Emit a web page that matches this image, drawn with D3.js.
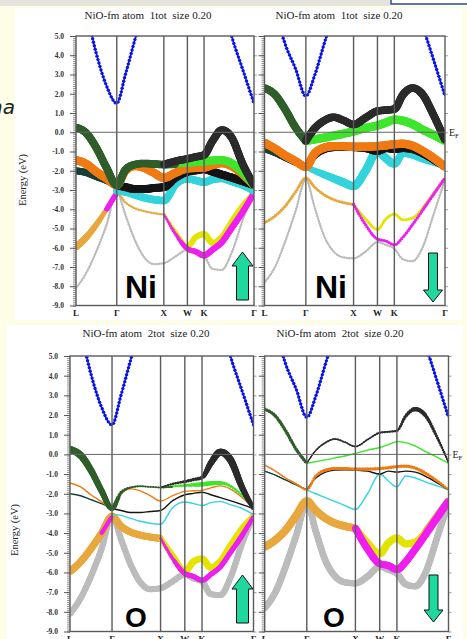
<!DOCTYPE html>
<html>
<head>
<meta charset="utf-8">
<script src="https://cdn.jsdelivr.net/npm/d3@7"></script>
<style>
  body { margin: 0; background: #fefde8; }
  svg { display: block; }
  text { white-space: pre; }
</style>
</head>
<body>
<svg id="chart" width="467" height="639"></svg>
<script>
// k-path L - Γ - X - W - K - Γ (units of 2π/a) and the sampled k points
const kPts = [0, 0.22, 0.43, 0.65, 0.866, 1.05, 1.25, 1.45, 1.65, 1.866, 2.116, 2.366, 2.543, 2.72, 2.9, 3.1, 3.3, 3.55, 3.781];
const kTickPos = [0, 0.866, 1.866, 2.366, 2.72, 3.781];
const kTickNames = ["L", "Γ", "X", "W", "K", "Γ"];
const energyTicks = [5, 4, 3, 2, 1, 0, -1, -2, -3, -4, -5, -6, -7, -8, -9];
const _ = null;

// spin up bands (eV)
const upGray      = [-8.1, -7.3, -6.2, -4.8, -3.1, -4.3, -5.6, -6.5, -6.85, -6.8, -6.45, -6.1, -6.3, -6.45, -7.1, -7.15, -6.3, -4.5, -3.1];
const upGold      = [-5.95, -5.45, -4.8, -4.0, -3.15, -3.65, -3.95, -4.1, -4.2, -4.27, _, _, _, _, _, _, _, _, _];
const upYellow    = [_, _, _, -4.0, -3.15, _, _, _, _, -4.25, -5.15, -5.95, -5.45, -5.3, -5.75, -5.45, -4.7, -3.8, -3.15];
const upMagenta   = [_, _, _, -4.0, -3.15, _, _, _, _, -4.25, -5.3, -6.05, -6.2, -6.4, -6.1, -5.7, -5.0, -4.1, -3.15];
const upCyan      = [_, _, _, _, -3.05, -3.1, -3.25, -3.4, -3.5, -3.55, -2.7, -2.42, -2.5, -2.6, -2.45, -2.4, -2.55, -2.75, -3.05];
const upBlackLo   = [_, _, _, _, -2.75, -2.85, -2.95, -2.95, -2.9, -2.85, -2.35, -2.05, -1.98, -1.92, -2.05, -2.2, -2.35, -2.55, -2.75];
const upTeal      = [-2.0, -2.1, -2.3, -2.5, -2.75, _, _, _, _, _, _, _, _, _, _, _, _, _, _];
const upOrange    = [-1.45, -1.65, -2.05, -2.4, -2.75, -2.0, -1.75, -1.85, -2.1, -2.37, -2.1, -1.88, -1.85, -1.83, -1.7, -1.6, -1.75, -2.2, -2.75];
const upGreen     = [_, _, _, _, _, _, _, _, _, -1.68, -1.62, -1.58, -1.55, -1.52, -1.47, -1.45, -1.6, -2.1, -2.75];
const upDarkGreen = [0.25, -0.05, -0.8, -1.85, -2.75, -1.95, -1.68, -1.62, -1.65, -1.68, -1.66, _, _, _, _, _, _, _, _];
const upBlackUp   = [_, _, _, _, _, _, _, _, _, -1.68, -1.5, -1.38, -1.28, -1.18, -0.45, 0.12, -0.25, -1.7, -2.75];
const upBlue      = [8.5, 6.3, 4.1, 2.4, 1.5, 3.0, 4.8, 6.5, 8.0, _, _, _, _, _, _, 7.0, 5.05, 3.2, 1.5];

// spin down bands (eV)
const dnGray      = [-7.8, -7.0, -5.7, -4.1, -2.45, -3.9, -5.4, -6.2, -6.5, -6.55, -6.2, -5.7, -5.85, -6.05, -6.6, -6.7, -6.05, -4.2, -2.45];
const dnGold      = [-4.7, -4.35, -3.85, -3.1, -2.37, -2.85, -3.25, -3.5, -3.65, -3.75, _, _, _, _, _, _, -4.0, -3.15, -2.37];
const dnYellow    = [_, _, _, _, _, _, _, _, _, -3.75, -4.5, -5.05, -4.5, -4.25, -4.55, -4.45, -4.0, _, _];
const dnMagenta   = [_, _, _, _, _, _, _, _, _, -3.75, -4.8, -5.55, -5.65, -5.85, -5.45, -4.8, -4.1, -3.2, -2.37];
const dnCyan      = [_, _, _, _, -1.8, -2.0, -2.2, -2.4, -2.6, -2.8, -2.0, -1.0, -1.35, -1.65, -1.1, -1.2, -1.4, -1.6, -1.8];
const dnBlackLo   = [_, _, _, _, -1.8, -1.2, -0.9, -0.8, -0.78, -0.8, -0.85, -1.0, -0.85, -0.9, -0.85, -0.9, -1.1, -1.45, -1.8];
const dnTeal      = [-0.85, -1.05, -1.3, -1.55, -1.8, _, _, _, _, _, _, _, _, _, _, _, _, _, _];
const dnOrange    = [-0.55, -0.85, -1.2, -1.5, -1.8, -1.1, -0.8, -0.72, -0.72, -0.75, -0.75, -0.72, -0.68, -0.62, -0.6, -0.7, -0.95, -1.35, -1.8];
const dnGreen     = [_, _, _, _, -0.45, -0.37, -0.28, -0.18, -0.08, 0.05, 0.22, 0.35, 0.5, 0.65, 0.6, 0.42, 0.15, -0.15, -0.45];
const dnDarkGreen = [2.3, 1.95, 1.2, 0.25, -0.45, _, _, _, _, _, _, _, _, _, _, _, _, _, _];
const dnBlackUp   = [_, _, _, _, -0.45, 0.2, 0.6, 0.78, 0.62, 0.4, 0.75, 1.1, 1.15, 1.2, 1.95, 2.3, 2.0, 0.85, -0.4];
const dnBlue      = [8.5, 6.4, 4.6, 3.3, 1.88, 2.95, 4.6, 6.2, 8.0, _, _, _, _, _, _, 7.0, 5.6, 3.7, 1.88];

const upBands = [upGray, upGold, upYellow, upMagenta, upCyan, upBlackLo, upTeal, upOrange, upGreen, upDarkGreen, upBlackUp, upBlue];
const dnBands = [dnGray, dnGold, dnYellow, dnMagenta, dnCyan, dnBlackLo, dnTeal, dnOrange, dnGreen, dnDarkGreen, dnBlackUp, dnBlue];

// fat-band character weights, same band order
const niUpWeights = [1.2,
  [3.5, 3.2, 2.8, 2.2, 1.5, 1.2, 1.2, 1.2, 1.2, 1.2, 0, 0, 0, 0, 0, 0, 0, 0, 0],
  [0, 0, 0, 0, 0, 0, 0, 0, 0, 1.5, 1.8, 2.5, 2.8, 3, 3, 3, 3, 2.8, 2.5],
  [0, 0, 0, 2.5, 2.5, 0, 0, 0, 0, 1.2, 1.8, 2.5, 2.8, 3, 3, 3, 3, 3, 2.8],
  3.8, 4, 3.5, 4.2, 4, 3.8, 3.8, 1.7];
const oUpWeights = [3,
  3.5,
  [0, 0, 0, 0, 2.2, 0, 0, 0, 0, 2.5, 3, 3.2, 3.2, 3.2, 3.2, 3.5, 3.5, 3.5, 3],
  [0, 0, 0, 2, 2, 0, 0, 0, 0, 1.5, 2, 2.5, 2.5, 2.5, 2.5, 2.5, 2.5, 2.5, 2],
  0, 0, 0, 0,
  [0, 0, 0, 0, 0, 0, 0, 0, 0, 0.8, 1.2, 1.6, 2, 2.2, 2.2, 2, 1.6, 1.2, 0.8],
  [3.5, 3.5, 3.2, 3, 2.5, 1.8, 1.2, 1, 1, 1, 1, 0, 0, 0, 0, 0, 0, 0, 0],
  [0, 0, 0, 0, 0, 0, 0, 0, 0, 0.8, 1.2, 1.6, 1.8, 2, 3, 3.5, 3.5, 3, 2.2],
  1.7];
const niDnWeights = [1.2, 1.6, 1.6, 1.6,
  [0, 0, 0, 0, 2.5, 3, 3.5, 3.8, 4, 4, 4, 4, 4, 3.8, 3.5, 3.2, 3, 2.8, 2.5],
  3.5, 3.5, 4.2, 4.2, 3.8, 3.8, 1.7];
const oDnWeights = [3.2, 3.8, 3.5, 3.5, 0, 0, 0.6,
  [0.6, 0.6, 0.8, 1, 1.2, 1.5, 1.8, 1.8, 1.8, 1.8, 1.8, 1.8, 1.8, 1.8, 1.8, 1.8, 1.8, 1.6, 1.2],
  0.5, 1.8,
  [0, 0, 0, 0, 0.6, 0.8, 1, 1, 1, 1, 1, 1.2, 1.2, 1.2, 1.8, 2.2, 2, 1.5, 1],
  1.7];

// styles
const bandColors = ["#bcbcbc", "#e8a83e", "#e4e400", "#f01ef0", "#33d4dc", "#141414", "#173f38",
                    "#f07a12", "#3fe62c", "#2f5e2a", "#2b2b2b", "#0a14e6"];
const serif = "'Liberation Serif', 'Times New Roman', serif";
const sans = "'Liberation Sans', Arial, sans-serif";

const panels = [
  { title: "NiO-fm atom  1tot  size 0.20", bands: upBands, weights: niUpWeights, x0: 76, x1: 254, y0: 36, y1: 305.5,
    titleX: 148, titleY: 19, labels: true, ef: false, atom: "Ni", atomX: 125, atomY: 298, atomSize: 32, arrow: "up", ax: 242.5, ay0: 252, ay1: 300 },
  { title: "NiO-fm atom  1tot  size 0.20", bands: dnBands, weights: niDnWeights, x0: 264.5, x1: 445, y0: 36, y1: 305.5,
    titleX: 339, titleY: 19, labels: false, ef: true, atom: "Ni", atomX: 315, atomY: 298, atomSize: 32, arrow: "down", ax: 433, ay0: 253, ay1: 302 },
  { title: "NiO-fm atom  2tot  size 0.20", bands: upBands, weights: oUpWeights, x0: 70, x1: 253.5, y0: 356, y1: 631.5,
    titleX: 146, titleY: 337, labels: true, ef: false, atom: "O", atomX: 125, atomY: 627, atomSize: 28, arrow: "up", ax: 242.5, ay0: 575, ay1: 623 },
  { title: "NiO-fm atom  2tot  size 0.20", bands: dnBands, weights: oDnWeights, x0: 264.7, x1: 448.5, y0: 356, y1: 631.5,
    titleX: 340, titleY: 337, labels: false, ef: true, atom: "O", atomX: 323, atomY: 627, atomSize: 28, arrow: "down", ax: 433.5, ay0: 575, ay1: 622 }
];

const svg = d3.select("#chart");

// slide background
svg.append("rect").attr("x", 0).attr("y", 0).attr("width", 467).attr("height", 639).attr("fill", "#fefde8");
svg.append("rect").attr("x", 0).attr("y", 0).attr("width", 390).attr("height", 6).attr("fill", "#e4e4dc");
svg.append("rect").attr("x", 391).attr("y", -2).attr("width", 80).attr("height", 6).attr("fill", "#fff")
  .attr("stroke", "#2a48a8").attr("stroke-width", 1.5);
svg.append("text").attr("x", 15).attr("y", 114).attr("text-anchor", "end")
  .attr("font-family", "'DejaVu Sans', sans-serif").attr("font-style", "italic").attr("font-size", 20)
  .attr("fill", "#222").text("na");
svg.append("rect").attr("x", 15).attr("y", 8).attr("width", 447).attr("height", 312).attr("fill", "#fff");
svg.append("rect").attr("x", 7).attr("y", 325).attr("width", 456).attr("height", 314).attr("fill", "#fff");

// y labels
svg.append("text").attr("transform", "translate(26,180) rotate(-90)").attr("text-anchor", "middle")
  .attr("font-family", serif).attr("font-size", 10.5).attr("fill", "#222").text("Energy (eV)");
svg.append("text").attr("transform", "translate(18,530) rotate(-90)").attr("text-anchor", "middle")
  .attr("font-family", serif).attr("font-size", 10.5).attr("fill", "#222").text("Energy (eV)");

function drawBand(g, x, y, E, w, color, isBlue) {
  const pts = kPts.map((k, i) => [k, E[i]]);
  const line = d3.line().defined(d => d[1] != null)
    .x(d => x(d[0])).y(d => y(d[1])).curve(d3.curveMonotoneX);
  const path = g.append("path").attr("d", line(pts)).attr("fill", "none")
    .attr("stroke", color).attr("stroke-width", isBlue ? 1.3 : 1.4);
  const wScale = d3.scaleLinear().domain(kPts)
    .range(kPts.map((k, i) => Array.isArray(w) ? w[i] : w)).clamp(true);
  const node = path.node();
  const len = node.getTotalLength();
  const dots = [];
  let s = 0;
  while (s <= len) {
    const p = node.getPointAtLength(s);
    const r = wScale(x.invert(p.x));
    if (r > 0.25) dots.push([p.x, p.y, r]);
    s += isBlue ? 3.6 : (r >= 2 ? 1 : 2.6);
  }
  g.append("g").selectAll("circle").data(dots).join("circle")
    .attr("cx", d => d[0]).attr("cy", d => d[1]).attr("r", d => d[2])
    .attr("fill", color);
}

panels.forEach((p, pi) => {
  const x = d3.scaleLinear().domain([0, 3.781]).range([p.x0, p.x1]);
  const y = d3.scaleLinear().domain([5, -9]).range([p.y0, p.y1]);
  const g = svg.append("g");

  g.append("text").attr("x", p.titleX).attr("y", p.titleY).attr("text-anchor", "middle")
    .attr("font-family", serif).attr("font-size", 11).attr("fill", "#222").text(p.title);

  // ruler ticks on the left
  const minor = d3.range(-90, 51).map(v => v / 10);
  g.append("g").attr("transform", `translate(${p.x0},0)`)
    .call(d3.axisLeft(y).tickValues(minor).tickSize(3).tickFormat(""))
    .call(a => a.select(".domain").remove())
    .call(a => a.selectAll("line").attr("stroke", "#666").attr("stroke-width", 0.7));
  g.append("g").attr("transform", `translate(${p.x0},0)`)
    .call(d3.axisLeft(y).tickValues(energyTicks).tickSize(6).tickPadding(6)
      .tickFormat(p.labels ? (v => v.toFixed(1)) : ""))
    .call(a => a.select(".domain").remove())
    .call(a => a.selectAll("line").attr("stroke", "#555").attr("stroke-width", 1))
    .call(a => a.selectAll("text").attr("font-family", serif).attr("font-weight", "bold")
      .attr("font-size", 7.5).attr("fill", "#333"));
  g.append("g").attr("transform", `translate(${p.x1},0)`)
    .call(d3.axisRight(y).tickValues(energyTicks).tickSize(3).tickFormat(""))
    .call(a => a.select(".domain").remove())
    .call(a => a.selectAll("line").attr("stroke", "#888").attr("stroke-width", 0.8));

  // bands
  const clipId = "clip" + pi;
  g.append("clipPath").attr("id", clipId).append("rect")
    .attr("x", p.x0).attr("y", p.y0).attr("width", p.x1 - p.x0).attr("height", p.y1 - p.y0);
  const bg = g.append("g").attr("clip-path", `url(#${clipId})`);
  p.bands.forEach((E, bi) => drawBand(bg, x, y, E, p.weights[bi], bandColors[bi], bi === p.bands.length - 1));

  // high-symmetry lines, Fermi level, frame
  g.append("g").selectAll("line").data(kTickPos.slice(1, -1)).join("line")
    .attr("x1", d => x(d)).attr("x2", d => x(d)).attr("y1", p.y0).attr("y2", p.y1)
    .attr("stroke", "#5a5a5a").attr("stroke-width", 1.4);
  g.append("line").attr("x1", p.x0).attr("x2", p.x1).attr("y1", y(0)).attr("y2", y(0))
    .attr("stroke", "#666").attr("stroke-width", 1);
  g.append("rect").attr("x", p.x0).attr("y", p.y0).attr("width", p.x1 - p.x0).attr("height", p.y1 - p.y0)
    .attr("fill", "none").attr("stroke", "#5a5a5a").attr("stroke-width", 1.4);

  g.append("g").selectAll("text").data(kTickPos).join("text")
    .attr("x", d => x(d)).attr("y", p.y1 + 10).attr("text-anchor", "middle")
    .attr("font-family", serif).attr("font-weight", "bold").attr("font-size", 9).attr("fill", "#222")
    .text((d, i) => kTickNames[i]);

  if (p.ef) {
    const t = g.append("text").attr("x", p.x1 + 4).attr("y", y(0) + 4)
      .attr("font-family", serif).attr("font-size", 10).attr("fill", "#222");
    t.append("tspan").text("E");
    t.append("tspan").attr("font-size", 7).attr("dy", 2).text("F");
  }

  g.append("text").attr("x", p.atomX).attr("y", p.atomY).attr("font-family", sans)
    .attr("font-weight", "bold").attr("font-size", p.atomSize).attr("fill", "#000").text(p.atom);

  // spin arrow
  let pts;
  const a = p.ax, t = p.ay0, b = p.ay1;
  if (p.arrow === "up") {
    pts = [[a, t], [a + 10.5, t + 14], [a + 6, t + 14], [a + 6, b], [a - 6, b], [a - 6, t + 14], [a - 10.5, t + 14]];
  } else {
    pts = [[a - 4.5, t], [a + 4.5, t], [a + 4.5, b - 12], [a + 9.5, b - 12], [a, b], [a - 9.5, b - 12], [a - 4.5, b - 12]];
  }
  g.append("path").attr("d", d3.line()(pts) + "Z").attr("fill", "#1fd8a0")
    .attr("stroke", "#111").attr("stroke-width", 1);
});
</script>
</body>
</html>
